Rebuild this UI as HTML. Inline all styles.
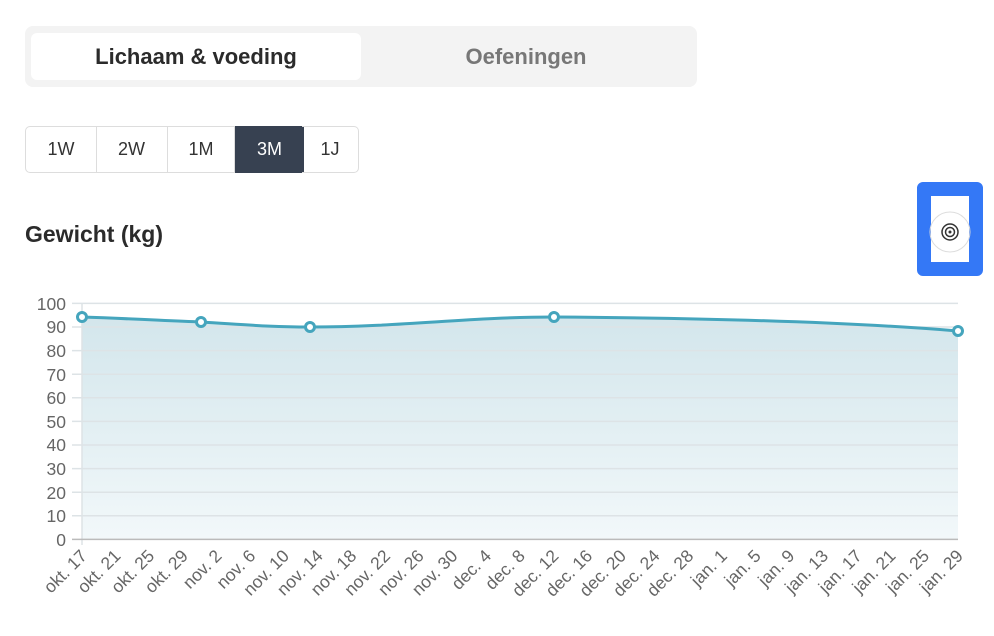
<!DOCTYPE html>
<html><head><style>
body{margin:0;width:994px;height:636px;background:#fff;font-family:"Liberation Sans",sans-serif;position:relative;overflow:hidden}
.tabs{position:absolute;left:25px;top:26px;width:672px;height:61px;background:#f3f3f3;border-radius:8px}
.tab{position:absolute;top:7px;height:47px;line-height:47px;text-align:center;font-size:22px;font-weight:bold}
.seg{position:absolute;top:126px;height:45px;line-height:45px;text-align:center;font-size:18px;color:#333;border:1px solid #ddd;box-sizing:content-box}
</style></head><body>
<div class="tabs">
<div class="tab" style="left:6px;width:330px;background:#fff;border-radius:6px;color:#2b2b2b">Lichaam &amp; voeding</div>
<div class="tab" style="left:336px;width:330px;color:#777">Oefeningen</div>
</div>
<div class="seg" style="left:25px;width:70px;border-radius:5px 0 0 5px">1W</div>
<div class="seg" style="left:96px;width:71px;border-left:none">2W</div>
<div class="seg" style="left:168px;width:66px;border-left:none">1M</div>
<div class="seg" style="left:235px;width:67px;background:#374151;color:#fff;border-color:#374151">3M</div>
<div class="seg" style="left:302px;width:56px;border-left:none;border-radius:0 5px 5px 0">1J</div>
<div style="position:absolute;left:25px;top:221px;font-size:23px;font-weight:bold;color:#2b2b2b">Gewicht (kg)</div>
<div style="position:absolute;left:917px;top:182px;width:38px;height:66px;border:14px solid #3478f6;border-radius:6px;background:#fff"></div>
<svg width="994" height="636" style="position:absolute;left:0;top:0">
<defs><linearGradient id="g" x1="0" y1="0" x2="0" y2="1"><stop offset="0" stop-color="#d3e6ec"/><stop offset="1" stop-color="#f2f8fa"/></linearGradient></defs>
<circle cx="950" cy="232" r="20" fill="none" stroke="#ddd"/>
<circle cx="950" cy="232" r="8" fill="none" stroke="#333" stroke-width="1.5"/>
<circle cx="950" cy="232" r="4.5" fill="none" stroke="#333" stroke-width="1.5"/>
<circle cx="950" cy="232" r="1.5" fill="#333"/>
<path d="M82,317 C140,319 170,321 201,322 C250,325 270,327 310,327 C400,327 470,317 554,317 C700,318 850,322 958,331 L958,539 L82,539 Z" fill="url(#g)"/>
<g stroke="#dde3e6" stroke-width="1.5">
<line x1="72" x2="958" y1="303.4" y2="303.4"/><line x1="72" x2="958" y1="327" y2="327"/><line x1="72" x2="958" y1="350.6" y2="350.6"/><line x1="72" x2="958" y1="374.2" y2="374.2"/><line x1="72" x2="958" y1="397.8" y2="397.8"/><line x1="72" x2="958" y1="421.4" y2="421.4"/><line x1="72" x2="958" y1="445" y2="445"/><line x1="72" x2="958" y1="468.6" y2="468.6"/><line x1="72" x2="958" y1="492.2" y2="492.2"/><line x1="72" x2="958" y1="515.8" y2="515.8"/>
<line x1="82" x2="82" y1="303" y2="545"/>
</g>
<line x1="72" x2="958" y1="539.4" y2="539.4" stroke="#bbb" stroke-width="1.5"/>
<path d="M82,317 C140,319 170,321 201,322 C250,325 270,327 310,327 C400,327 470,317 554,317 C700,318 850,322 958,331" fill="none" stroke="#45a5bd" stroke-width="3"/>
<g fill="#fff" stroke="#45a5bd" stroke-width="3">
<circle cx="82" cy="317" r="4.5"/><circle cx="201" cy="322" r="4.5"/><circle cx="310" cy="327" r="4.5"/><circle cx="554" cy="317" r="4.5"/><circle cx="958" cy="331" r="4.5"/>
</g>
<g font-size="17.5" fill="#666" text-anchor="end" font-family="Liberation Sans,sans-serif">
<text x="66" y="310">100</text><text x="66" y="333">90</text><text x="66" y="357">80</text><text x="66" y="381">70</text><text x="66" y="404">60</text><text x="66" y="428">50</text><text x="66" y="451">40</text><text x="66" y="475">30</text><text x="66" y="499">20</text><text x="66" y="522">10</text><text x="66" y="546">0</text>
</g>
<g font-size="17.5" fill="#666" text-anchor="end" font-family="Liberation Sans,sans-serif" id="xl"></g>
</svg>
<script>
var L=["okt. 17","okt. 21","okt. 25","okt. 29","nov. 2","nov. 6","nov. 10","nov. 14","nov. 18","nov. 22","nov. 26","nov. 30","dec. 4","dec. 8","dec. 12","dec. 16","dec. 20","dec. 24","dec. 28","jan. 1","jan. 5","jan. 9","jan. 13","jan. 17","jan. 21","jan. 25","jan. 29"];
var g=document.getElementById('xl'),h='';
var step=876/26;
for(var i=0;i<L.length;i++){var x=82+i*step;h+='<text transform="translate('+(x+6)+',557) rotate(-45)">'+L[i]+'</text>';}
g.innerHTML=h;
</script>
</body></html>
